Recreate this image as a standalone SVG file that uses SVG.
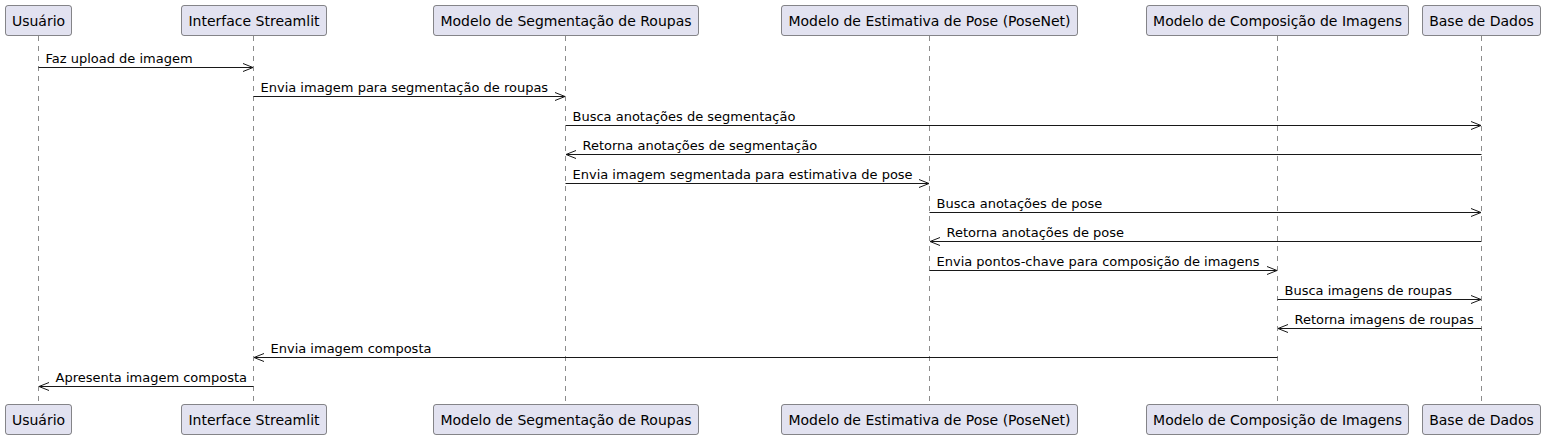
<svg xmlns="http://www.w3.org/2000/svg" width="1546" height="440" viewBox="0 0 1546 440">
<style>
.box{fill:#E2E2F0;stroke:#181818;stroke-width:0.5}
.bt{font-family:"DejaVu Sans",sans-serif;font-size:14px;fill:#000;text-anchor:middle}
.life{stroke:#181818;stroke-width:0.5;stroke-dasharray:5,5;fill:none}
.msg{stroke:#181818;stroke-width:1;fill:none;marker-end:url(#ah)}
.mt{font-family:"DejaVu Sans",sans-serif;font-size:13px;fill:#000}
</style>
<defs>
<marker id="ah" markerUnits="userSpaceOnUse" markerWidth="12" markerHeight="10" refX="10" refY="4" orient="auto" overflow="visible">
<path d="M0,0 L10,4 L0,8" fill="none" stroke="#181818" stroke-width="1"/>
</marker>
</defs>
<g id="lifelines">
<line class="life" x1="38.5" y1="36" x2="38.5" y2="404"/>
<line class="life" x1="253.5" y1="36" x2="253.5" y2="404"/>
<line class="life" x1="565.5" y1="36" x2="565.5" y2="404"/>
<line class="life" x1="929.5" y1="36" x2="929.5" y2="404"/>
<line class="life" x1="1277.5" y1="36" x2="1277.5" y2="404"/>
<line class="life" x1="1481.5" y1="36" x2="1481.5" y2="404"/>
</g>
<g id="usuario">
<rect class="box" x="5.5" y="5.5" width="66" height="30" rx="2.5"/>
<text class="bt" x="38.5" y="25.5">Usuário</text>
<rect class="box" x="5.5" y="404.5" width="66" height="30" rx="2.5"/>
<text class="bt" x="38.5" y="424.5">Usuário</text>
</g>
<g id="interface">
<rect class="box" x="181.5" y="5.5" width="145" height="30" rx="2.5"/>
<text class="bt" x="254" y="25.5">Interface Streamlit</text>
<rect class="box" x="181.5" y="404.5" width="145" height="30" rx="2.5"/>
<text class="bt" x="254" y="424.5">Interface Streamlit</text>
</g>
<g id="segmentacao">
<rect class="box" x="433.5" y="5.5" width="265" height="30" rx="2.5"/>
<text class="bt" x="566" y="25.5">Modelo de Segmentação de Roupas</text>
<rect class="box" x="433.5" y="404.5" width="265" height="30" rx="2.5"/>
<text class="bt" x="566" y="424.5">Modelo de Segmentação de Roupas</text>
</g>
<g id="pose">
<rect class="box" x="781.5" y="5.5" width="296" height="30" rx="2.5"/>
<text class="bt" x="929.5" y="25.5">Modelo de Estimativa de Pose (PoseNet)</text>
<rect class="box" x="781.5" y="404.5" width="296" height="30" rx="2.5"/>
<text class="bt" x="929.5" y="424.5">Modelo de Estimativa de Pose (PoseNet)</text>
</g>
<g id="composicao">
<rect class="box" x="1146.5" y="5.5" width="262" height="30" rx="2.5"/>
<text class="bt" x="1277.5" y="25.5">Modelo de Composição de Imagens</text>
<rect class="box" x="1146.5" y="404.5" width="262" height="30" rx="2.5"/>
<text class="bt" x="1277.5" y="424.5">Modelo de Composição de Imagens</text>
</g>
<g id="base">
<rect class="box" x="1422.5" y="5.5" width="118" height="30" rx="2.5"/>
<text class="bt" x="1481.5" y="25.5">Base de Dados</text>
<rect class="box" x="1422.5" y="404.5" width="118" height="30" rx="2.5"/>
<text class="bt" x="1481.5" y="424.5">Base de Dados</text>
</g>
<g id="connectors">
<line class="msg" x1="38.5" y1="67.5" x2="253" y2="67.5"/>
<text class="mt" x="45.5" y="62.5">Faz upload de imagem</text>
<line class="msg" x1="253.5" y1="96.5" x2="565" y2="96.5"/>
<text class="mt" x="260.5" y="91.5">Envia imagem para segmentação de roupas</text>
<line class="msg" x1="565.5" y1="125.5" x2="1481" y2="125.5"/>
<text class="mt" x="572.5" y="120.5">Busca anotações de segmentação</text>
<line class="msg" x1="1481.5" y1="154.5" x2="566" y2="154.5"/>
<text class="mt" x="582.5" y="149.5">Retorna anotações de segmentação</text>
<line class="msg" x1="565.5" y1="183.5" x2="929" y2="183.5"/>
<text class="mt" x="572.5" y="178.5">Envia imagem segmentada para estimativa de pose</text>
<line class="msg" x1="929.5" y1="212.5" x2="1481" y2="212.5"/>
<text class="mt" x="936.5" y="207.5">Busca anotações de pose</text>
<line class="msg" x1="1481.5" y1="241.5" x2="930" y2="241.5"/>
<text class="mt" x="946.5" y="236.5">Retorna anotações de pose</text>
<line class="msg" x1="929.5" y1="270.5" x2="1277" y2="270.5"/>
<text class="mt" x="936.5" y="265.5">Envia pontos-chave para composição de imagens</text>
<line class="msg" x1="1277.5" y1="299.5" x2="1481" y2="299.5"/>
<text class="mt" x="1284.5" y="294.5">Busca imagens de roupas</text>
<line class="msg" x1="1481.5" y1="328.5" x2="1278" y2="328.5"/>
<text class="mt" x="1294.5" y="323.5">Retorna imagens de roupas</text>
<line class="msg" x1="1277.5" y1="357.5" x2="254" y2="357.5"/>
<text class="mt" x="270.5" y="352.5">Envia imagem composta</text>
<line class="msg" x1="253.5" y1="386.5" x2="39" y2="386.5"/>
<text class="mt" x="55.5" y="381.5">Apresenta imagem composta</text>
</g>
</svg>
